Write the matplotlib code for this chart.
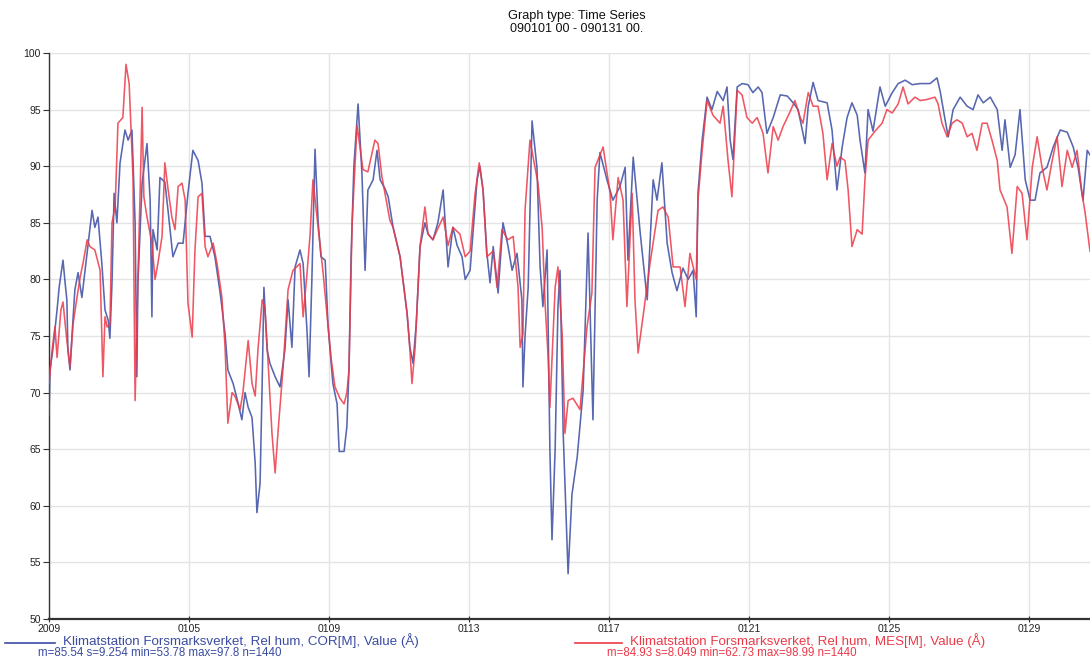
import matplotlib
matplotlib.use("Agg")
import matplotlib.pyplot as plt
from matplotlib.lines import Line2D
from matplotlib import font_manager

# ---------------- data (day of January 2009, relative humidity %) ----------------
cor_t = [1.00, 1.03, 1.11, 1.23, 1.29, 1.40, 1.46, 1.51, 1.54, 1.60, 1.66, 1.74, 1.83, 1.94, 2.03, 2.11,
         2.23, 2.31, 2.40, 2.51, 2.60, 2.69, 2.74, 2.80, 2.86, 2.94, 3.03, 3.17, 3.26, 3.37, 3.46, 3.51,
         3.54, 3.66, 3.80, 3.89, 3.94, 3.97, 4.09, 4.17, 4.31, 4.40, 4.54, 4.69, 4.83, 4.97, 5.11, 5.26,
         5.37, 5.46, 5.60, 5.74, 5.89, 6.03, 6.11, 6.26, 6.40, 6.51, 6.60, 6.69, 6.80, 6.89, 6.94, 7.03,
         7.09, 7.14, 7.23, 7.31, 7.46, 7.60, 7.74, 7.83, 7.94, 8.03, 8.17, 8.26, 8.37, 8.43, 8.51, 8.60,
         8.69, 8.77, 8.89, 8.97, 9.11, 9.23, 9.29, 9.43, 9.51, 9.57, 9.63, 9.71, 9.83, 9.94, 10.03, 10.11,
         10.26, 10.37, 10.46, 10.60, 10.69, 10.83, 11.03, 11.23, 11.31, 11.40, 11.49, 11.60, 11.74, 11.83,
         11.97, 12.11, 12.26, 12.40, 12.54, 12.66, 12.80, 12.89, 13.03, 13.23, 13.31, 13.40, 13.51, 13.60,
         13.69, 13.83, 13.97, 14.11, 14.23, 14.37, 14.51, 14.54, 14.60, 14.69, 14.80, 14.94, 15.03, 15.11,
         15.23, 15.31, 15.37, 15.46, 15.54, 15.60, 15.69, 15.83, 15.94, 16.09, 16.26, 16.40, 16.54, 16.66,
         16.74, 16.94, 17.11, 17.31, 17.46, 17.54, 17.69, 17.89, 18.09, 18.26, 18.37, 18.51, 18.66, 18.80,
         18.94, 19.11, 19.26, 19.40, 19.49, 19.54, 19.66, 19.80, 19.94, 20.09, 20.26, 20.37, 20.46, 20.54,
         20.66, 20.80, 20.97, 21.11, 21.26, 21.37, 21.51, 21.69, 21.89, 22.09, 22.26, 22.40, 22.60, 22.69,
         22.83, 22.97, 23.23, 23.37, 23.51, 23.66, 23.80, 23.94, 24.09, 24.17, 24.31, 24.40, 24.54, 24.74,
         24.89, 25.09, 25.26, 25.46, 25.66, 25.89, 26.17, 26.37, 26.46, 26.60, 26.69, 26.83, 27.03, 27.23,
         27.40, 27.54, 27.69, 27.89, 28.09, 28.23, 28.31, 28.46, 28.60, 28.74, 28.89, 29.03, 29.17, 29.31,
         29.51, 29.69, 29.89, 30.09, 30.26, 30.40, 30.54, 30.66, 30.74]
cor_v = [68.0, 72.0, 73.8, 77.3, 79.3, 81.7, 79.7, 78.2, 73.8, 72.0, 75.2, 79.1, 80.6, 78.4, 80.8, 82.9,
         86.1, 84.6, 85.5, 81.4, 77.3, 76.4, 74.8, 79.7, 87.6, 85.0, 90.3, 93.2, 92.3, 93.2, 85.0, 71.4,
         79.7, 88.5, 92.0, 87.0, 76.7, 84.4, 82.6, 89.0, 88.6, 86.1, 82.0, 83.2, 83.2, 87.6, 91.4, 90.5,
         88.5, 83.8, 83.8, 82.0, 78.8, 75.2, 72.0, 70.8, 69.1, 67.6, 70.0, 68.7, 67.8, 63.8, 59.4, 62.0,
         70.8, 79.3, 73.8, 72.6, 71.4, 70.5, 73.8, 78.2, 74.0, 81.1, 82.6, 81.4, 75.5, 71.4, 80.0, 91.5,
         85.0, 82.0, 81.7, 76.0, 70.8, 69.0, 64.8, 64.8, 67.0, 72.0, 82.0, 90.0, 95.5, 89.4, 80.8, 87.9,
         88.8, 91.4, 88.8, 88.0, 87.3, 84.6, 82.0, 77.0, 74.0, 72.6, 76.0, 82.9, 85.0, 84.0,
         83.5, 85.0, 87.9, 81.1, 84.6, 83.0, 82.0, 80.0, 80.8, 88.8, 90.0, 87.9, 82.3, 79.7,
         82.9, 78.8, 85.0, 83.0, 80.8, 82.3, 78.2, 70.5, 75.0, 79.3, 94.0, 89.9, 81.1, 77.6,
         82.6, 64.9, 57.0, 65.0, 77.6, 80.8, 66.4, 54.0, 61.0, 64.3, 70.2, 84.1, 67.6, 87.0,
         91.2, 88.8, 87.0, 88.2, 89.9, 81.7, 90.8, 84.1, 78.2, 88.8, 87.0, 90.3, 83.2, 80.6,
         79.0, 81.0, 80.0, 80.8, 76.7, 87.6, 92.3, 96.1, 95.0, 96.6, 95.8, 97.0, 92.3, 90.6,
         97.0, 97.3, 97.2, 96.5, 97.0, 96.5, 92.9, 94.3, 96.3, 96.2, 95.6, 95.0, 92.0, 95.3,
         97.4, 95.8, 95.6, 93.2, 87.9, 91.7, 94.3, 95.6, 94.5, 92.3, 89.4, 95.0, 93.1, 97.0,
         95.3, 96.5, 97.3, 97.6, 97.2, 97.3, 97.3, 97.8, 96.6, 94.1, 92.6, 95.0, 96.1, 95.3,
         95.0, 96.3, 95.6, 96.1, 95.0, 91.4, 94.1, 89.9, 91.0, 95.0, 88.8, 87.0, 87.0, 89.4,
         89.9, 91.7, 93.2, 93.0, 91.7, 89.9, 87.0, 91.4, 91.0]

mes_t = [1.00, 1.09, 1.17, 1.23, 1.34, 1.40, 1.51, 1.60, 1.69, 1.80, 1.89, 1.97, 2.09, 2.17, 2.31, 2.46,
         2.54, 2.60, 2.66, 2.74, 2.80, 2.89, 2.97, 3.11, 3.20, 3.29, 3.40, 3.46, 3.54, 3.60, 3.66, 3.71,
         3.80, 3.94, 4.03, 4.11, 4.23, 4.31, 4.40, 4.51, 4.60, 4.69, 4.80, 4.89, 4.97, 5.09, 5.17, 5.26,
         5.37, 5.46, 5.54, 5.69, 5.80, 5.94, 6.03, 6.11, 6.23, 6.31, 6.46, 6.54, 6.69, 6.80, 6.89, 6.97,
         7.09, 7.17, 7.26, 7.37, 7.46, 7.54, 7.69, 7.83, 7.97, 8.17, 8.26, 8.37, 8.46, 8.54, 8.69, 8.83,
         8.94, 9.06, 9.17, 9.31, 9.43, 9.51, 9.57, 9.66, 9.80, 9.97, 10.11, 10.31, 10.40, 10.51, 10.74, 10.83,
         11.03, 11.23, 11.31, 11.37, 11.46, 11.60, 11.74, 11.83, 11.97, 12.11, 12.26, 12.40, 12.54, 12.74,
         12.89, 13.03, 13.17, 13.29, 13.40, 13.51, 13.69, 13.80, 13.94, 14.11, 14.26, 14.40, 14.46, 14.54,
         14.60, 14.74, 14.97, 15.09, 15.17, 15.26, 15.31, 15.46, 15.54, 15.66, 15.74, 15.83, 15.97, 16.17,
         16.37, 16.51, 16.60, 16.83, 17.03, 17.11, 17.26, 17.40, 17.51, 17.66, 17.74, 17.83, 17.97, 18.17,
         18.40, 18.54, 18.69, 18.83, 19.03, 19.17, 19.31, 19.49, 19.54, 19.66, 19.80, 19.97, 20.11, 20.17,
         20.26, 20.40, 20.51, 20.66, 20.80, 20.94, 21.09, 21.23, 21.40, 21.54, 21.69, 21.83, 21.97, 22.17,
         22.31, 22.46, 22.54, 22.69, 22.83, 22.97, 23.11, 23.23, 23.37, 23.51, 23.60, 23.74, 23.83, 23.94,
         24.09, 24.23, 24.31, 24.40, 24.60, 24.80, 24.94, 25.09, 25.26, 25.40, 25.54, 25.74, 25.89, 26.09,
         26.31, 26.40, 26.51, 26.66, 26.80, 26.94, 27.09, 27.23, 27.37, 27.51, 27.66, 27.80, 27.94, 28.09,
         28.17, 28.37, 28.51, 28.66, 28.80, 28.94, 29.09, 29.23, 29.37, 29.51, 29.66, 29.80, 29.94, 30.09,
         30.23, 30.37, 30.51, 30.60, 30.74]
mes_v = [70.8, 73.8, 75.8, 73.1, 77.3, 78.0, 74.6, 72.3, 76.1, 78.4, 80.2, 81.4, 83.5, 82.9, 82.6, 80.8,
         71.4, 76.7, 75.8, 76.0, 85.0, 86.4, 93.8, 94.3, 99.0, 97.3, 89.0, 69.3, 80.0, 87.3, 95.2, 87.3,
         85.5, 83.2, 80.0, 81.4, 83.8, 90.3, 88.0, 85.5, 84.4, 88.2, 88.5, 87.0, 77.9, 74.9, 82.6, 87.3,
         87.6, 82.9, 82.0, 83.2, 81.4, 78.4, 74.0, 67.3, 70.0, 69.7, 68.5, 70.0, 74.6, 70.8, 69.7, 73.8,
         78.2, 77.5, 72.6, 66.4, 62.9, 66.4, 72.3, 79.1, 80.8, 81.4, 76.7, 80.5, 84.0, 88.8, 84.6, 80.6,
         77.0, 73.0, 70.5, 69.5, 69.0, 70.0, 72.0, 85.0, 93.6, 89.7, 89.5, 92.3, 92.0, 89.1, 85.2, 84.6,
         82.0, 77.0, 73.8, 70.8, 74.0, 82.9, 86.4, 84.0, 83.5, 84.5, 85.5, 83.0, 84.6, 84.0,
         82.0, 82.5, 87.5, 90.3, 87.9, 82.0, 82.5, 79.3, 84.4, 83.5, 83.8, 79.3, 74.0, 75.2,
         86.1, 92.3, 88.5, 84.5, 78.0, 73.1, 68.7, 79.3, 81.1, 75.2, 66.4, 69.3, 69.5, 68.5,
         75.8, 78.8, 89.9, 91.7, 87.6, 83.5, 89.0, 87.0, 77.6, 87.6, 78.2, 73.5, 76.7, 81.4,
         86.1, 86.4, 85.5, 81.1, 81.1, 77.6, 82.3, 80.0, 87.0, 91.4, 95.8, 94.5, 94.0, 93.8,
         95.3, 90.5, 87.3, 96.7, 96.3, 94.3, 93.8, 94.3, 92.9, 89.4, 93.5, 92.3, 93.5, 94.8,
         95.8, 94.3, 93.8, 96.5, 95.3, 95.3, 92.9, 88.8, 92.0, 90.0, 90.8, 90.5, 87.9, 82.9,
         84.4, 84.0, 88.8, 92.3, 93.1, 93.8, 95.0, 94.7, 95.5, 97.0, 95.5, 96.1, 95.8, 95.9,
         96.1, 95.5, 93.8, 92.6, 93.8, 94.1, 93.8, 92.6, 92.9, 91.4, 93.8, 93.8, 92.3, 90.5,
         87.9, 86.4, 82.3, 88.2, 87.6, 83.5, 89.9, 92.6, 89.9, 87.9, 90.5, 92.6, 88.2, 91.4,
         89.9, 91.4, 87.6, 85.9, 82.5]

x_ticks = [1, 5, 9, 13, 17, 21, 25, 29]
x_ticklabels = ["2009", "0105", "0109", "0113", "0117", "0121", "0125", "0129"]
y_ticks = [50, 55, 60, 65, 70, 75, 80, 85, 90, 95, 100]

title_lines = ["Graph type: Time Series", "090101 00 - 090131 00."]
cor_label = "Klimatstation Forsmarksverket, Rel hum, COR[M], Value (Å)"
cor_stats = "m=85.54 s=9.254 min=53.78 max=97.8 n=1440"
mes_label = "Klimatstation Forsmarksverket, Rel hum, MES[M], Value (Å)"
mes_stats = "m=84.93 s=8.049 min=62.73 max=98.99 n=1440"

# ---------------- style ----------------
names = {f.name for f in font_manager.fontManager.ttflist}
narrow = "Liberation Sans Narrow" if "Liberation Sans Narrow" in names else "Liberation Sans"
regular = "Liberation Sans"

BLUE = "#3a4ca2"
RED = "#ec3a48"

W, H = 1090, 660
fig = plt.figure(figsize=(W / 100, H / 100), dpi=100)
fig.patch.set_facecolor("white")

left, right, top, bottom = 49, 1090, 53, 619
ax = fig.add_axes([left / W, 1 - bottom / H, (right - left) / W, (bottom - top) / H])

ax.plot(cor_t, cor_v, color=BLUE, lw=1.15, alpha=0.85, zorder=3)
ax.plot(mes_t, mes_v, color=RED, lw=1.15, alpha=0.85, zorder=4)

ax.set_xlim(1, 30.74)
ax.set_ylim(50, 100)
ax.set_xticks(x_ticks)
ax.set_xticklabels(x_ticklabels)
ax.set_yticks(y_ticks)
ax.set_yticklabels([str(v) for v in y_ticks])

ax.grid(True, color="#e4e4e4", lw=1.0, zorder=0)
ax.set_axisbelow(True)
for s in ["top", "right"]:
    ax.spines[s].set_visible(False)
ax.spines["left"].set_color("#333333")
ax.spines["left"].set_linewidth(1.0)
ax.spines["bottom"].set_color("#333333")
ax.spines["bottom"].set_linewidth(1.6)

ax.tick_params(axis="y", direction="out", length=4, width=0.8, color="#333333",
               labelsize=7.5, pad=2, labelcolor="#222222")
ax.tick_params(axis="x", direction="inout", length=5, width=0.8, color="#333333",
               labelsize=7.5, pad=1, labelcolor="#222222")
for lab in ax.get_xticklabels() + ax.get_yticklabels():
    lab.set_family(narrow)

# title
fig.text(577 / W, 1 - 16 / H, title_lines[0], ha="center", va="center",
         fontsize=9.2, family=narrow, color="#111111")
fig.text(577 / W, 1 - 29 / H, title_lines[1], ha="center", va="center",
         fontsize=9.0, family=narrow, color="#111111")

# legend at bottom
fig.add_artist(Line2D([5 / W, 55 / W], [1 - 643 / H, 1 - 643 / H], color=BLUE, lw=1.2))
fig.text(63 / W, 1 - 641 / H, cor_label, ha="left", va="center",
         fontsize=9.6, family=regular, color=BLUE)
fig.text(38 / W, 1 - 653 / H, cor_stats, ha="left", va="center",
         fontsize=8.3, family=narrow, color=BLUE)

fig.add_artist(Line2D([575 / W, 622 / W], [1 - 643 / H, 1 - 643 / H], color=RED, lw=1.2))
fig.text(630 / W, 1 - 641 / H, mes_label, ha="left", va="center",
         fontsize=9.6, family=regular, color=RED)
fig.text(607 / W, 1 - 653 / H, mes_stats, ha="left", va="center",
         fontsize=8.3, family=narrow, color=RED)

fig.savefig("out.png", dpi=100)
